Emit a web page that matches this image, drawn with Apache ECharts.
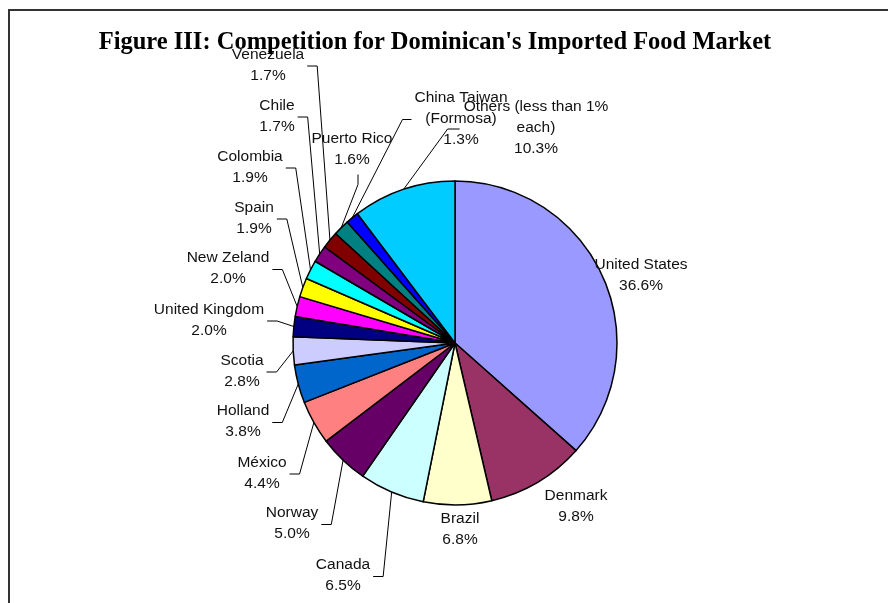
<!DOCTYPE html>
<html><head><meta charset="utf-8">
<script src="https://cdn.jsdelivr.net/npm/echarts@6/dist/echarts.min.js"></script>
<style>html,body{margin:0;padding:0;background:#fff}#c{width:888px;height:603px}</style>
</head><body><div id="c"></div>
<script>
// ---- data ----
const categories = ['United States','Denmark','Brazil','Canada','Norway','México','Holland','Scotia','United Kingdom','New Zeland','Spain','Colombia','Chile','Venezuela','Puerto Rico','China Taiwan\n(Formosa)','Others (less than 1%\neach)'];
const shares = [36.6,9.8,6.8,6.5,5.0,4.4,3.8,2.8,2.0,2.0,1.9,1.9,1.7,1.7,1.6,1.3,10.3];
const colors = ['#9999FF','#993366','#FFFFCC','#CCFFFF','#660066','#FF8080','#0066CC','#CCCCFF','#000080','#FF00FF','#FFFF00','#00FFFF','#800080','#800000','#008080','#0000FF','#00CCFF'];
const titleText = "Figure III: Competition for Dominican's Imported Food Market";

// ---- label placement (layout only): block centre + leader style ----
const labelPlace = [
  [641,275.5,'none'], [576,506,'none'], [460,529,'none'], [343,575.5,'left'],
  [292,523.5,'left'], [262,473,'left'], [243,421.5,'left'], [242,371,'left'],
  [209,320,'left'], [228,268.5,'left'], [254,218,'left'], [250,167,'left'],
  [277,116,'left'], [268,65,'left'], [352,149.5,'below'], [461,118.5,'right'],
  [536,128,'right2']
];

const chart = echarts.init(document.getElementById('c'), null, {renderer:'canvas'});
chart.setOption({
  animation:false,
  backgroundColor:'#fff',
  graphic:[
    {type:'polyline', silent:true, shape:{points:[[9,603],[9,10],[888,10]]}, style:{stroke:'#333', lineWidth:2, fill:null}},
    {type:'text', silent:true, z:10, style:{text:titleText, x:435, y:43, align:'center', verticalAlign:'middle', font:'bold 24.5px "Liberation Serif"', fill:'#000'}}
  ],
  series:[{
    type:'pie',
    center:[455,343],
    radius:162,
    startAngle:90,
    clockwise:true,
    avoidLabelOverlap:false,
    emphasis:{disabled:true},
    itemStyle:{borderColor:'#000', borderWidth:1.5},
    label:{show:true, position:'outside', fontFamily:'Liberation Sans', fontSize:15.5, lineHeight:21, color:'#111',
      formatter:function(p){ return p.name + '\n' + p.value.toFixed(1) + '%'; }},
    labelLine:{show:true, length:8, length2:8, smooth:false, lineStyle:{color:'#000', width:1}},
    labelLayout:function(p){
      const pl = labelPlace[p.dataIndex];
      const w = p.labelRect.width, h = p.labelRect.height;
      const res = {x:pl[0], y:pl[1], align:'center', verticalAlign:'middle'};
      const pts = p.labelLinePoints;
      if (pts && pts.length && pl[2] !== 'none') {
        const edge = [pts[0][0], pts[0][1]];
        let a, b;
        if (pl[2] === 'left') { a = [pl[0] + w/2 + 3, pl[1] + 1]; b = [a[0] + 10, a[1]]; }
        else if (pl[2] === 'below') { a = [pl[0] + 6, pl[1] + h/2 + 4]; b = [a[0], a[1] + 10]; }
        else if (pl[2] === 'right') { a = [pl[0] - w/2 - 3, pl[1] + 1]; b = [a[0] - 9, a[1]]; }
        else { a = [pl[0] - w/2 - 4, pl[1] + 1]; b = [a[0] - 12, a[1]]; }
        res.labelLinePoints = [edge, b, a];
      }
      return res;
    },
    data: categories.map(function(n,i){
      return {name:n, value:shares[i], itemStyle:{color:colors[i]}, labelLine:{show: labelPlace[i][2] !== 'none'}};
    })
  }]
});
</script>
</body></html>
